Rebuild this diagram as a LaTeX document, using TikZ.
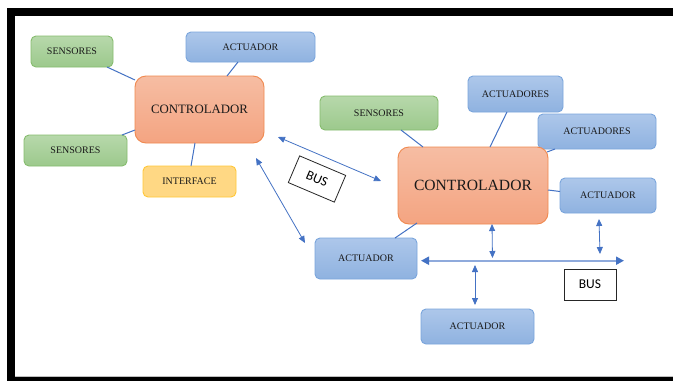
\documentclass[tikz,border=0pt]{standalone}
\usepackage{fontspec}
\setmainfont{Liberation Serif}
\newfontfamily\busfont{Carlito}
\usetikzlibrary{arrows.meta}
\definecolor{lnblue}{HTML}{4472C4}
\definecolor{busblue}{HTML}{8FAADC}
\definecolor{gtop}{HTML}{B7D8AB}
\definecolor{gbot}{HTML}{9CC98C}
\definecolor{gbrd}{HTML}{86BC6E}
\definecolor{btop}{HTML}{ADC7EA}
\definecolor{bbot}{HTML}{8FB2E0}
\definecolor{bbrd}{HTML}{7AA5DC}
\definecolor{otop}{HTML}{F6BDA3}
\definecolor{obot}{HTML}{F4A481}
\definecolor{obrd}{HTML}{F0894F}
\definecolor{yfill}{HTML}{FFD884}
\definecolor{ybrd}{HTML}{FFC738}
\tikzset{
  box/.style={rounded corners=5pt, line width=0.9pt, inner sep=0pt, text=black!90, font=\fontsize{10}{12}\selectfont},
  greenbox/.style={box, draw=gbrd, top color=gtop, bottom color=gbot},
  bluebox/.style={box, draw=bbrd, top color=btop, bottom color=bbot},
  ctrlbox/.style={box, rounded corners=11pt, draw=obrd, top color=otop, bottom color=obot},
  yellowbox/.style={box, draw=ybrd, fill=yfill},
  conn/.style={draw=lnblue, line width=1pt},
  darrow/.style={draw=lnblue, line width=0.8pt, {Triangle[length=7pt,width=6pt]}-{Triangle[length=7pt,width=6pt]}},
  busline/.style={draw=busblue, line width=2pt, {Triangle[length=8pt,width=8pt,fill=lnblue,color=lnblue]}-{Triangle[length=8pt,width=8pt,fill=lnblue,color=lnblue]}},
  buslabel/.style={draw=black!85, line width=0.8pt, fill=white, inner sep=0pt, font=\busfont\fontsize{13.5}{15}\selectfont}
}
\begin{document}
\begin{tikzpicture}[x=1pt,y=-1pt]
\useasboundingbox (0,0) rectangle (673,381);
\fill[white] (0,0) rectangle (673,381);
% frame
\fill[black] (7,8) rectangle (673,16);
\fill[black] (7,8) rectangle (15,381);
\fill[black] (7,377) rectangle (673,381);
\draw[black!25, line width=0.6pt] (15,376) -- (673,376);

% left group
\node[greenbox, minimum width=82pt, minimum height=31pt] (s1) at (72,51.5) {SENSORES};
\node[bluebox, minimum width=129pt, minimum height=30pt] (a1) at (250.5,47) {ACTUADOR};
\node[ctrlbox, minimum width=129pt, minimum height=67pt, font=\fontsize{12.8}{14}\selectfont] (c1) at (199.5,109.5) {CONTROLADOR};
\node[greenbox, minimum width=103pt, minimum height=31pt] (s2) at (75.5,150.5) {SENSORES};
\node[yellowbox, minimum width=93pt, minimum height=31pt] (i1) at (189.5,181.5) {INTERFACE};

% right group
\node[greenbox, minimum width=118pt, minimum height=34pt] (s3) at (379,113) {SENSORES};
\node[bluebox, minimum width=95pt, minimum height=36pt] (a2) at (515.5,94) {ACTUADORES};
\node[bluebox, minimum width=118pt, minimum height=35pt] (a3) at (597,131.5) {ACTUADORES};
\node[ctrlbox, minimum width=150pt, minimum height=77pt, font=\fontsize{15.6}{17}\selectfont] (c2) at (473,185.5) {CONTROLADOR};
\node[bluebox, minimum width=96pt, minimum height=35pt] (a4) at (608,195.5) {ACTUADOR};
\node[bluebox, minimum width=102pt, minimum height=41pt] (a5) at (366,258.5) {ACTUADOR};
\node[bluebox, minimum width=113pt, minimum height=35pt] (a6) at (477.5,326.5) {ACTUADOR};

% BUS labels
\node[buslabel, minimum width=52pt, minimum height=31pt] (b1) at (590,284.5) {BUS};
\node[buslabel, minimum width=50pt, minimum height=29pt, rotate=-23] (b2) at (317,179) {BUS};

% connectors (plain)
\coordinate (p1) at (107,67); \coordinate (q1) at (135,80);
\coordinate (p2) at (238,62); \coordinate (q2) at (227,76);
\coordinate (p3) at (122,135); \coordinate (q3) at (135,130);
\coordinate (p4) at (195,143); \coordinate (q4) at (191,166);
\coordinate (p5) at (401,130); \coordinate (q5) at (423,147);
\coordinate (p6) at (507,112); \coordinate (q6) at (490,147);
\coordinate (p7) at (555,149); \coordinate (q7) at (547,152);
\coordinate (p8) at (548,190); \coordinate (q8) at (560,191.5);
\coordinate (p9) at (395,238); \coordinate (q9) at (417,223);
\draw[conn] (p1) -- (q1);
\draw[conn] (p2) -- (q2);
\draw[conn] (p3) -- (q3);
\draw[conn] (p4) -- (q4);
\draw[conn] (p5) -- (q5);
\draw[conn] (p6) -- (q6);
\draw[conn] (p7) -- (q7);
\draw[conn] (p8) -- (q8);
\draw[conn] (p9) -- (q9);

% double arrows
\coordinate (r1) at (278,137); \coordinate (t1) at (381,181);
\coordinate (r2) at (256,158); \coordinate (t2) at (305,243);
\draw[darrow] (r1) -- (t1);
\draw[darrow] (r2) -- (t2);

% bus line
\coordinate (bl) at (421,260.7); \coordinate (br) at (624,260.7);
\draw[busline] (bl) -- (br);
\coordinate (v1a) at (492,224); \coordinate (v1b) at (492.5,258);
\coordinate (v2a) at (599,219); \coordinate (v2b) at (600,254);
\coordinate (v3a) at (475,265); \coordinate (v3b) at (475,305);
\draw[darrow] (v1a) -- (v1b);
\draw[darrow] (v2a) -- (v2b);
\draw[darrow] (v3a) -- (v3b);
\end{tikzpicture}
\end{document}
